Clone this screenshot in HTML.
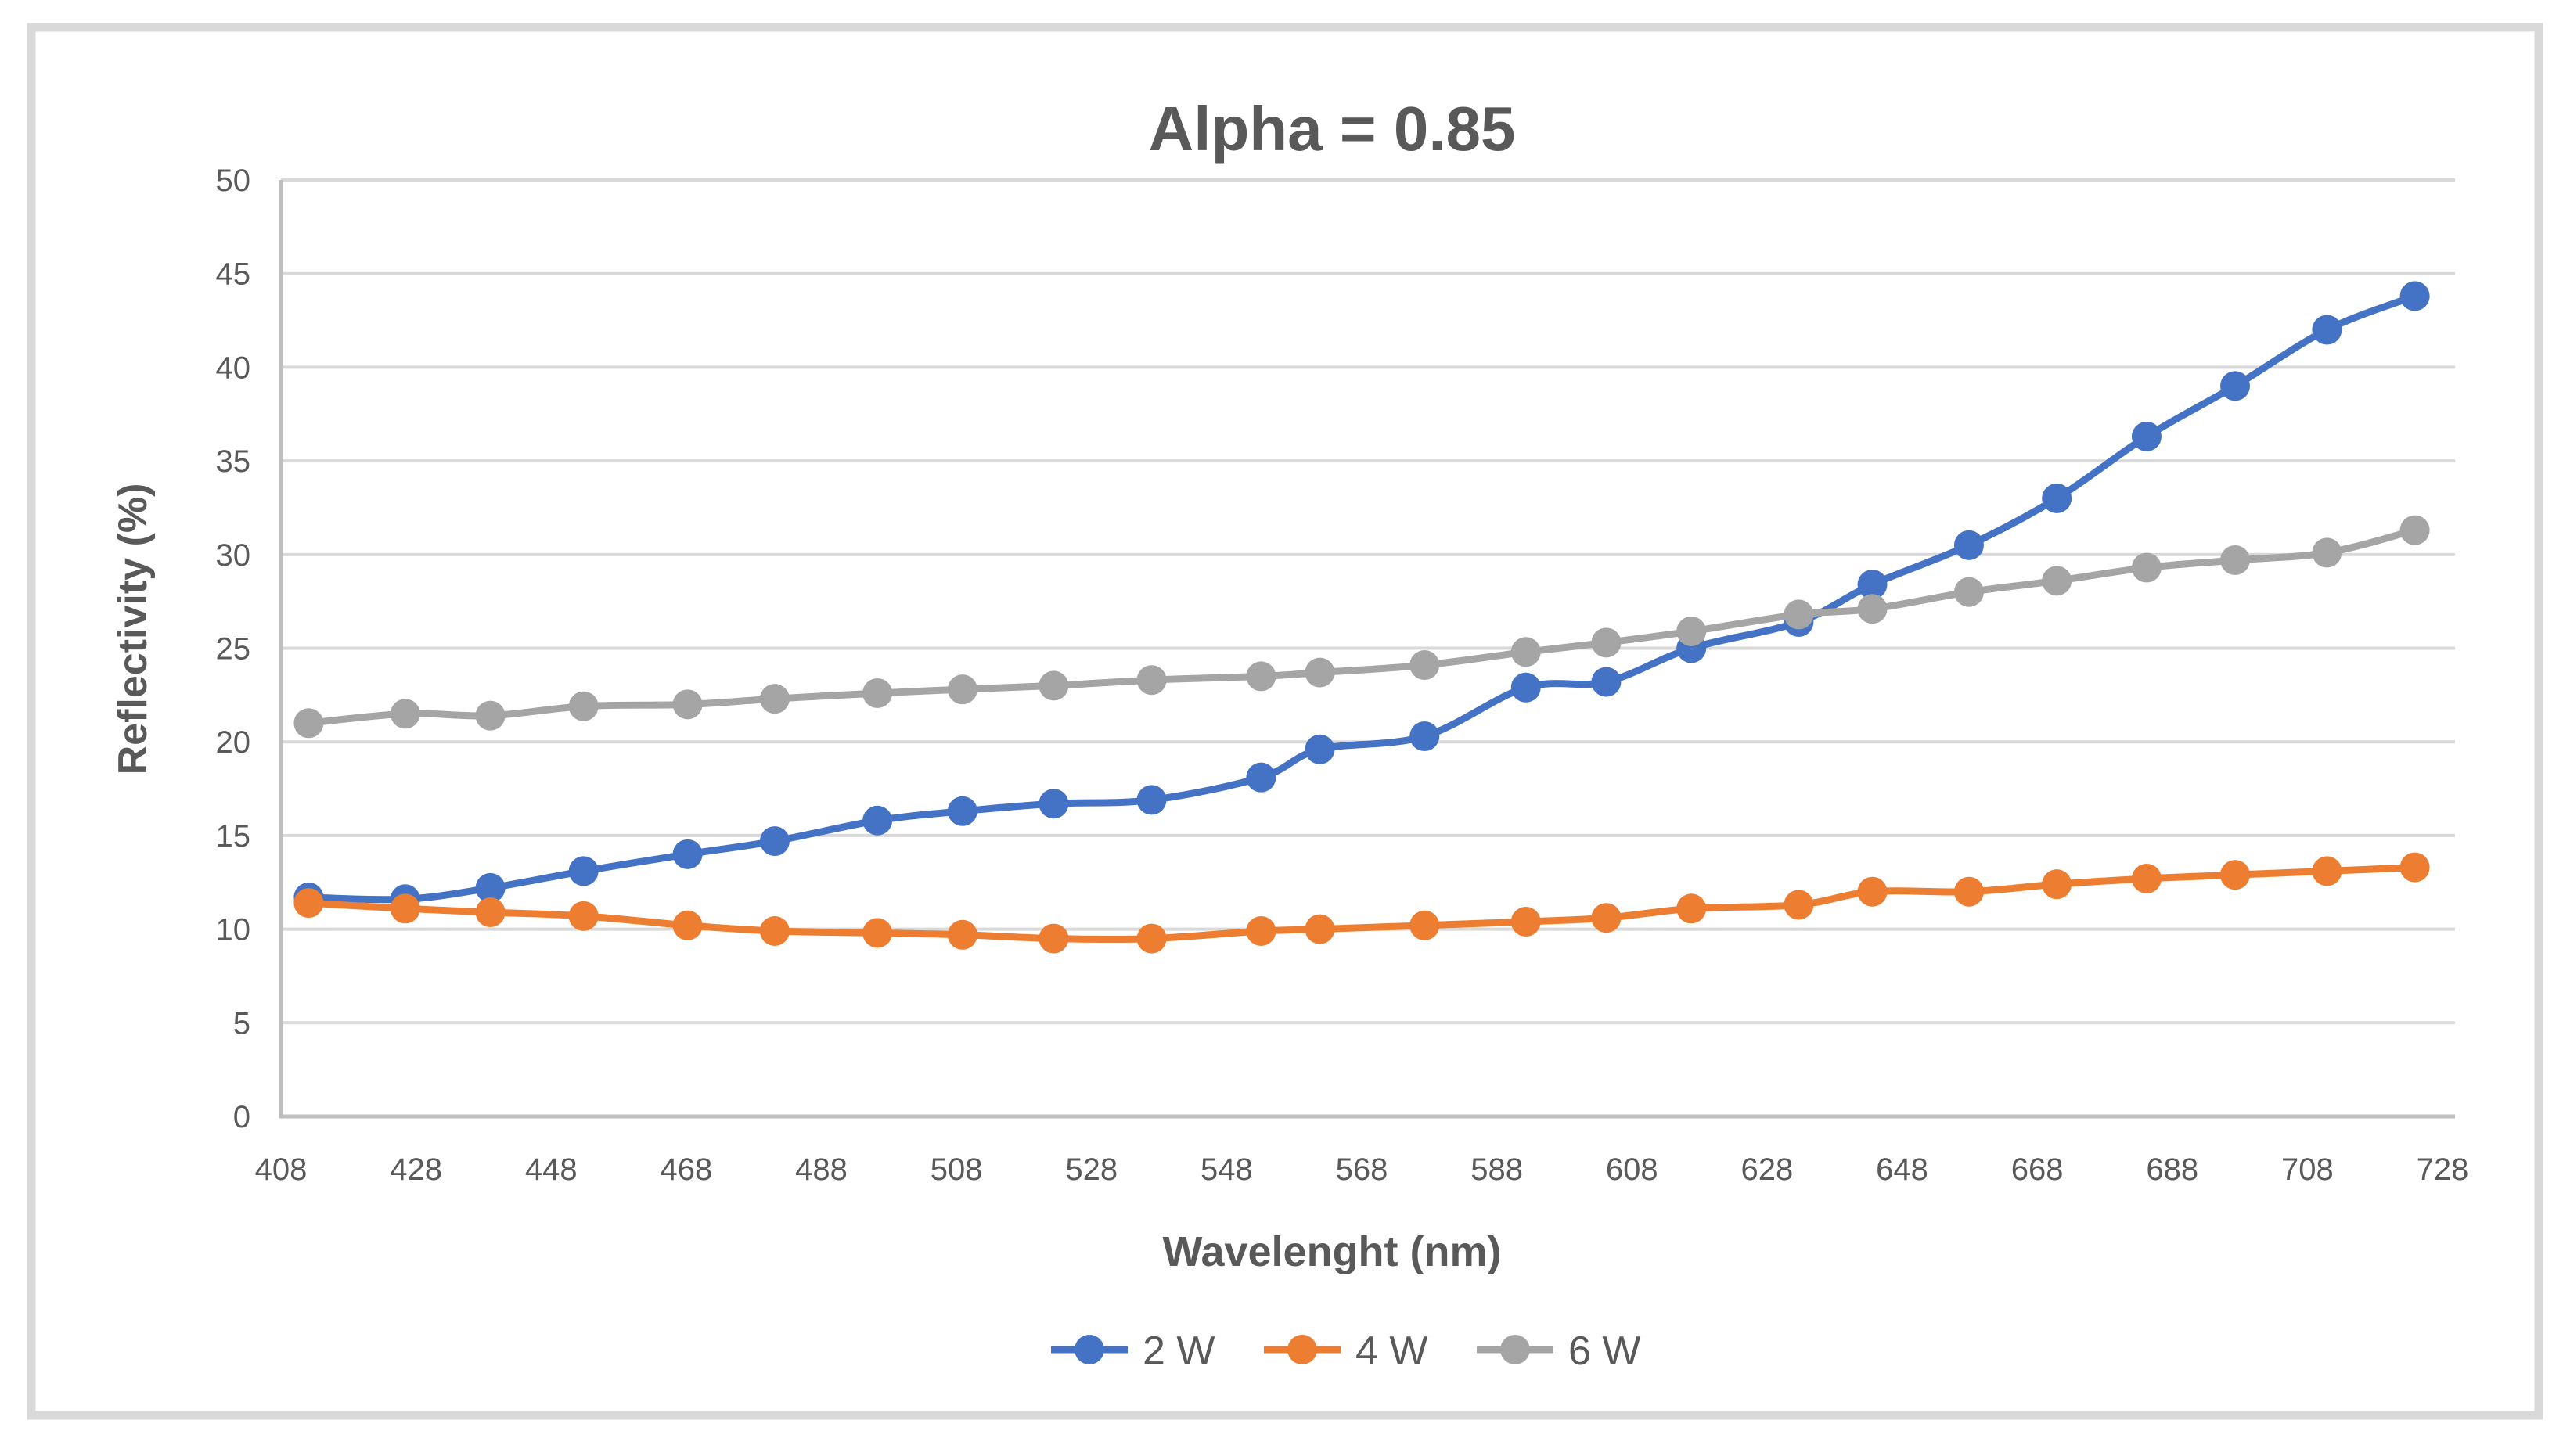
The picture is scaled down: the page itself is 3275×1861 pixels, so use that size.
<!DOCTYPE html>
<html><head><meta charset="utf-8"><style>
html,body{margin:0;padding:0;background:#fff;}
svg{display:block;font-family:"Liberation Sans",sans-serif;}
</style></head><body>
<svg id="chart" width="3275" height="1861" viewBox="0 0 3275 1861">
<rect x="40" y="35" width="3204" height="1774" fill="#fff" stroke="#d9d9d9" stroke-width="11"/>
<text x="1702" y="192" text-anchor="middle" font-size="80" font-weight="bold" fill="#595959">Alpha = 0.85</text>
<g id="grid"></g><g id="axes"></g><g id="series"></g>
<text x="1702" y="1618" text-anchor="middle" font-size="54" font-weight="bold" fill="#595959">Wavelenght (nm)</text>
<text transform="translate(187,804) rotate(-90)" text-anchor="middle" font-size="52" font-weight="bold" fill="#595959">Reflectivity (%)</text>
<g id="legend"></g>
</svg>
<script>
const wavelengths=[412.1,426.4,439,452.8,468.2,481.1,496.3,508.9,522.4,536.9,553.1,561.8,577.3,592.3,604.2,616.8,632.7,643.6,657.9,670.9,684.2,697.3,710.9,723.9];
const series2W=[11.7,11.6,12.2,13.1,14.0,14.7,15.8,16.3,16.7,16.9,18.1,19.6,20.3,22.9,23.2,25.0,26.4,28.4,30.5,33.0,36.3,39.0,42.0,43.8];
const series4W=[11.4,11.1,10.9,10.7,10.2,9.9,9.8,9.7,9.5,9.5,9.9,10.0,10.2,10.4,10.6,11.1,11.3,12.0,12.0,12.4,12.7,12.9,13.1,13.3];
const series6W=[21.0,21.5,21.4,21.9,22.0,22.3,22.6,22.8,23.0,23.3,23.5,23.7,24.1,24.8,25.3,25.9,26.8,27.1,28.0,28.6,29.3,29.7,30.1,31.3];
const xTicks=[408,428,448,468,488,508,528,548,568,588,608,628,648,668,688,708,728];
const yTicks=[0,5,10,15,20,25,30,35,40,45,50];
const seriesNames=["2 W","4 W","6 W"];
const seriesColors=["#4472c4","#ed7d31","#a5a5a5"];

const NS="http://www.w3.org/2000/svg";
const X0=359,X1=3121,XR=3137,Y0=1427,Y1=230;
function xs(v){return X0+(v-408)/(728-408)*(X1-X0);}
function ys(v){return Y0-(v/50)*(Y0-Y1);}
function mk(tag,attrs,parent){const e=document.createElementNS(NS,tag);for(const k in attrs)e.setAttribute(k,attrs[k]);parent.appendChild(e);return e;}
const grid=document.getElementById('grid'),axes=document.getElementById('axes'),ser=document.getElementById('series'),leg=document.getElementById('legend');
yTicks.forEach(t=>{
  if(t>0){const l=mk('line',{x1:X0,x2:XR,y1:ys(t),y2:ys(t),stroke:'#d9d9d9','stroke-width':4},grid);
  
  }
  const tx=mk('text',{x:320,y:ys(t)+14,'text-anchor':'end','font-size':40,fill:'#595959'},axes);
  tx.textContent=t;
  
  
});
xTicks.forEach(t=>{
  const tx=mk('text',{x:xs(t),y:1508,'text-anchor':'middle','font-size':40,fill:'#595959'},axes);
  tx.textContent=t;
  
  
});
const ya=mk('line',{x1:X0,x2:X0,y1:Y1,y2:Y0+2,stroke:'#bfbfbf','stroke-width':5},axes);


const xa=mk('line',{x1:X0-2,x2:XR,y1:Y0,y2:Y0,stroke:'#bfbfbf','stroke-width':5},axes);



function smooth(pts){
  let d='M'+pts[0][0]+','+pts[0][1];
  for(let i=0;i<pts.length-1;i++){
    const p0=pts[Math.max(0,i-1)],p1=pts[i],p2=pts[i+1],p3=pts[Math.min(pts.length-1,i+2)];
    const c1=[p1[0]+(p2[0]-p0[0])/6,p1[1]+(p2[1]-p0[1])/6];
    const c2=[p2[0]-(p3[0]-p1[0])/6,p2[1]-(p3[1]-p1[1])/6];
    d+=' C'+c1[0]+','+c1[1]+' '+c2[0]+','+c2[1]+' '+p2[0]+','+p2[1];
  }
  return d;
}
const allSeries=[series2W,series4W,series6W];
allSeries.forEach((vals,si)=>{
  const g=mk('g',{},ser);
  
  
  const pts=vals.map((v,i)=>[xs(wavelengths[i]),ys(v)]);
  const p=mk('path',{d:smooth(pts),fill:'none',stroke:seriesColors[si],'stroke-width':9,'stroke-linejoin':'round','stroke-linecap':'round'},g);
  
  
  pts.forEach((q,i)=>{
    const c=mk('circle',{cx:q[0],cy:q[1],r:19,fill:seriesColors[si]},g);
    
    
  });
});
const legX=[1343,1615,1887];
seriesNames.forEach((n,si)=>{
  const g=mk('g',{},leg);
  
  
  const y=1725,x=legX[si];
  mk('line',{x1:x,x2:x+98,y1:y,y2:y,stroke:seriesColors[si],'stroke-width':9},g);
  mk('circle',{cx:x+49,cy:y,r:19,fill:seriesColors[si]},g);
  const t=mk('text',{x:x+117,y:y+19,'font-size':52,fill:'#595959'},g);
  t.textContent=n;
});
</script>
</body></html>
